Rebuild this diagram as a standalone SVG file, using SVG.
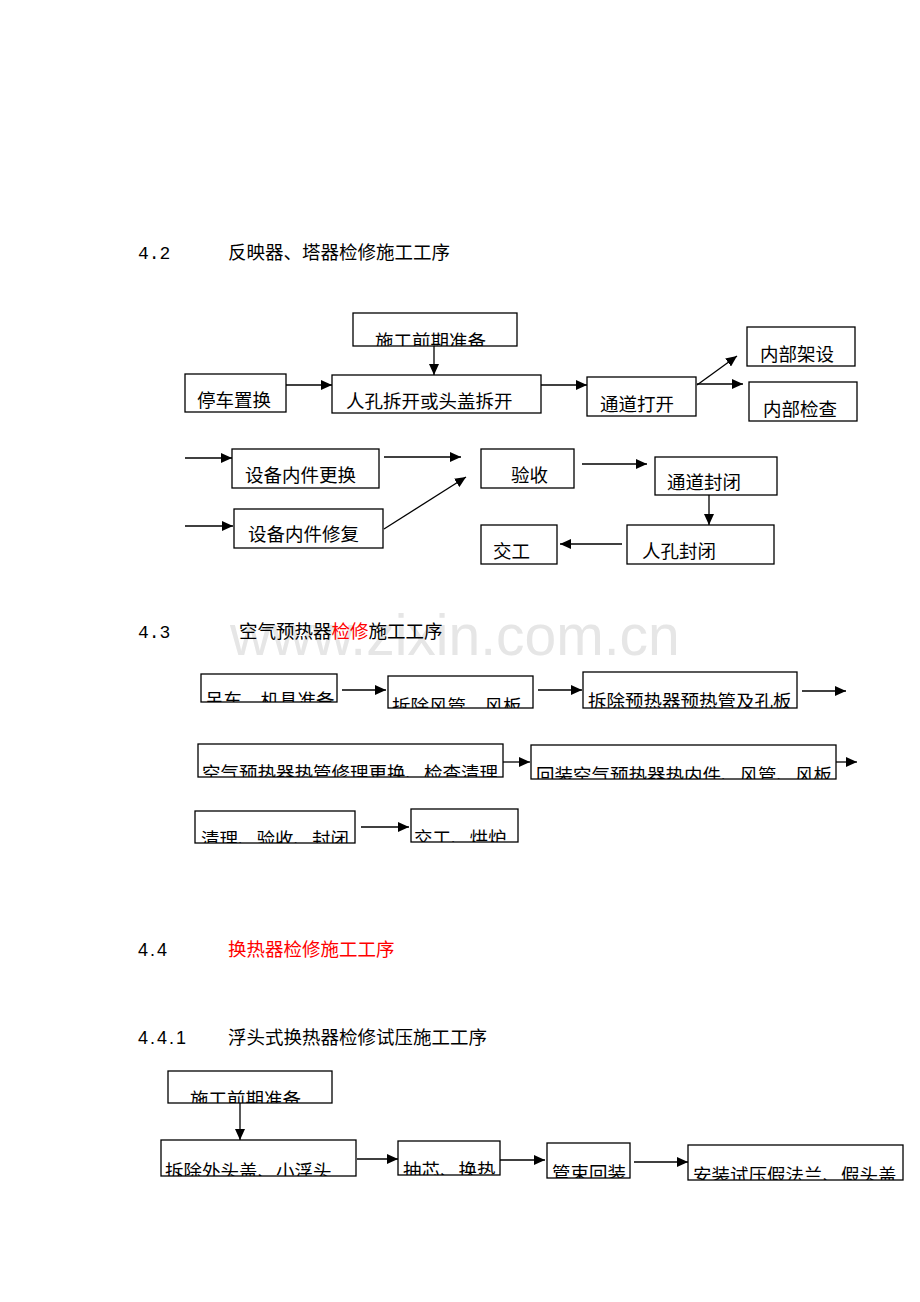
<svg xmlns="http://www.w3.org/2000/svg" width="920" height="1302" viewBox="0 0 920 1302">
<style>
.b{fill:#fff;stroke:#000;stroke-width:1.3}
.t{font-family:"Noto Sans CJK SC","Noto Sans CJK JP",sans-serif;font-size:18.5px;fill:#000}
.h{font-family:"Noto Sans CJK SC",sans-serif;font-size:18.5px;fill:#000}
.n{font-family:"Liberation Mono",monospace;font-size:18px;fill:#000}
.s{font-family:"Liberation Sans",sans-serif;font-size:18px;fill:#000;letter-spacing:2px}
.r{fill:#ff0000}
.c line{stroke:#000;stroke-width:1.3;marker-end:url(#a)}
.wm{font-family:"Liberation Sans",sans-serif;font-size:57px;fill:#e6e6e6}
</style>
<defs>
<marker id="a" markerUnits="userSpaceOnUse" markerWidth="12" markerHeight="10" refX="11" refY="5" orient="auto"><path d="M0,0 L11,5 L0,10 Z" fill="#000"/></marker>
<clipPath id="k1"><rect x="353" y="313" width="164" height="33"/></clipPath>
<clipPath id="k2"><rect x="201" y="674" width="136" height="28"/></clipPath>
<clipPath id="k3"><rect x="388" y="676" width="145" height="32"/></clipPath>
<clipPath id="k4"><rect x="583" y="672" width="214" height="36"/></clipPath>
<clipPath id="k5"><rect x="198" y="744" width="305" height="33"/></clipPath>
<clipPath id="k6"><rect x="531" y="745" width="305" height="34"/></clipPath>
<clipPath id="k7"><rect x="195" y="811" width="160" height="32"/></clipPath>
<clipPath id="k8"><rect x="411" y="809" width="107" height="33"/></clipPath>
<clipPath id="k9"><rect x="168" y="1071" width="164" height="32"/></clipPath>
<clipPath id="k10"><rect x="161" y="1140" width="195" height="36"/></clipPath>
<clipPath id="k11"><rect x="398" y="1141" width="102" height="34"/></clipPath>
<clipPath id="k12"><rect x="547" y="1143" width="83" height="35"/></clipPath>
<clipPath id="k13"><rect x="688" y="1145" width="215" height="35"/></clipPath>
</defs>
<rect width="920" height="1302" fill="#fff"/>
<text class="wm" x="230" y="655">www.zixin.com.cn</text>

<g id="titles">
<text class="n" x="138" y="259">4.2</text>
<text class="h" x="228" y="259">反映器、塔器检修施工工序</text>
<text class="n" x="138" y="638">4.3</text>
<text class="h" x="239" y="638">空气预热器<tspan class="r">检修</tspan>施工工序</text>
<text class="s" x="138" y="956">4.4</text>
<text class="h r" x="228" y="956">换热器检修施工工序</text>
<text class="s" x="138" y="1044">4.4.1</text>
<text class="h" x="228" y="1044">浮头式换热器检修试压施工工序</text>
</g>

<g id="connectors" class="c">
<line x1="434" y1="346" x2="434" y2="375"/>
<line x1="286" y1="385" x2="332" y2="385"/>
<line x1="541" y1="385" x2="587" y2="385"/>
<line x1="697" y1="385" x2="737" y2="356"/>
<line x1="697" y1="384" x2="743" y2="384"/>
<line x1="185" y1="458" x2="232" y2="458"/>
<line x1="384" y1="457" x2="461" y2="457"/>
<line x1="185" y1="526" x2="233" y2="526"/>
<line x1="384" y1="529" x2="466" y2="477"/>
<line x1="582" y1="464" x2="647" y2="464"/>
<line x1="709" y1="495" x2="709" y2="525"/>
<line x1="622" y1="544" x2="560" y2="544"/>
<line x1="342" y1="690" x2="386" y2="690"/>
<line x1="538" y1="690" x2="582" y2="690"/>
<line x1="802" y1="691" x2="846" y2="691"/>
<line x1="503" y1="762" x2="530" y2="762"/>
<line x1="836" y1="762" x2="857" y2="762"/>
<line x1="361" y1="827" x2="409" y2="827"/>
<line x1="240" y1="1103" x2="240" y2="1140"/>
<line x1="357" y1="1159" x2="398" y2="1159"/>
<line x1="500" y1="1160" x2="545" y2="1160"/>
<line x1="634" y1="1162" x2="688" y2="1162"/>
</g>

<g id="n42_prep"><rect class="b" x="353" y="313" width="164" height="33"/><text class="t" x="375" y="348" clip-path="url(#k1)">施工前期准备</text></g>
<g id="n42_stop"><rect class="b" x="185" y="374" width="101" height="38"/><text class="t" x="197" y="407">停车置换</text></g>
<g id="n42_manhole"><rect class="b" x="332" y="375" width="209" height="38"/><text class="t" x="346" y="408">人孔拆开或头盖拆开</text></g>
<g id="n42_open"><rect class="b" x="587" y="377" width="109" height="39"/><text class="t" x="600" y="411">通道打开</text></g>
<g id="n42_scaffold"><rect class="b" x="747" y="327" width="108" height="39"/><text class="t" x="760" y="361">内部架设</text></g>
<g id="n42_inspect"><rect class="b" x="749" y="382" width="108" height="39"/><text class="t" x="763" y="416">内部检查</text></g>
<g id="n42_replace"><rect class="b" x="232" y="449" width="147" height="39"/><text class="t" x="245" y="482">设备内件更换</text></g>
<g id="n42_repair"><rect class="b" x="234" y="509" width="149" height="39"/><text class="t" x="248" y="541">设备内件修复</text></g>
<g id="n42_accept"><rect class="b" x="481" y="449" width="93" height="39"/><text class="t" x="511" y="482">验收</text></g>
<g id="n42_close"><rect class="b" x="655" y="457" width="122" height="38"/><text class="t" x="667" y="489">通道封闭</text></g>
<g id="n42_mclose"><rect class="b" x="627" y="525" width="147" height="39"/><text class="t" x="642" y="558">人孔封闭</text></g>
<g id="n42_handover"><rect class="b" x="481" y="525" width="76" height="39"/><text class="t" x="493" y="558">交工</text></g>

<g id="n43_crane"><rect class="b" x="201" y="674" width="136" height="28"/><text class="t" x="205" y="707" clip-path="url(#k2)">吊车、机具准备</text></g>
<g id="n43_duct"><rect class="b" x="388" y="676" width="145" height="32"/><text class="t" x="392" y="713" clip-path="url(#k3)">拆除风管、风板</text></g>
<g id="n43_remove"><rect class="b" x="583" y="672" width="214" height="36"/><text class="t" x="588" y="708" clip-path="url(#k4)">拆除预热器预热管及孔板</text></g>
<g id="n43_fix"><rect class="b" x="198" y="744" width="305" height="33"/><text class="t" x="202" y="780" clip-path="url(#k5)">空气预热器热管修理更换、检查清理</text></g>
<g id="n43_refit"><rect class="b" x="531" y="745" width="305" height="34"/><text class="t" x="536" y="782" clip-path="url(#k6)">回装空气预热器热内件、风管、风板</text></g>
<g id="n43_clean"><rect class="b" x="195" y="811" width="160" height="32"/><text class="t" x="201" y="846" clip-path="url(#k7)">清理、验收、封闭</text></g>
<g id="n43_handover"><rect class="b" x="411" y="809" width="107" height="33"/><text class="t" x="414" y="845" clip-path="url(#k8)">交工、烘炉</text></g>

<g id="n441_prep"><rect class="b" x="168" y="1071" width="164" height="32"/><text class="t" x="190" y="1106" clip-path="url(#k9)">施工前期准备</text></g>
<g id="n441_remove"><rect class="b" x="161" y="1140" width="195" height="36"/><text class="t" x="165" y="1178" clip-path="url(#k10)">拆除外头盖、小浮头</text></g>
<g id="n441_pull"><rect class="b" x="398" y="1141" width="102" height="34"/><text class="t" x="403" y="1177" clip-path="url(#k11)">抽芯、换热</text></g>
<g id="n441_refit"><rect class="b" x="547" y="1143" width="83" height="35"/><text class="t" x="552" y="1180" clip-path="url(#k12)">管束回装</text></g>
<g id="n441_test"><rect class="b" x="688" y="1145" width="215" height="35"/><text class="t" x="693" y="1182" clip-path="url(#k13)">安装试压假法兰、假头盖</text></g>
</svg>
